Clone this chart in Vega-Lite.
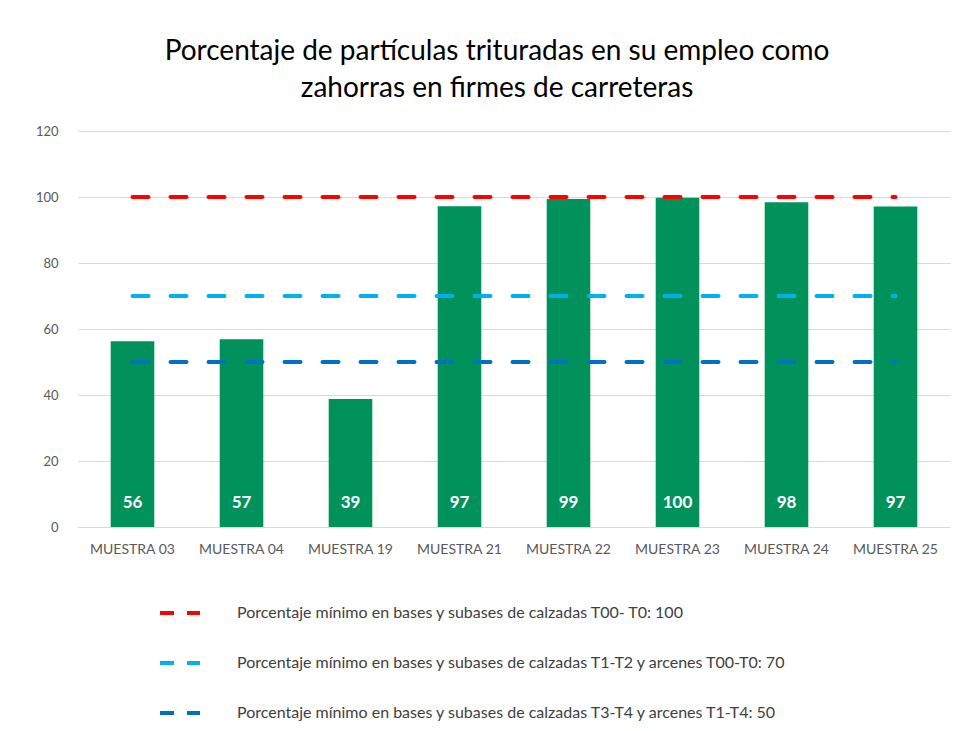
{
  "$schema": "https://vega.github.io/schema/vega-lite/v6.json",
  "width": 872,
  "height": 396,
  "autosize": "none",
  "padding": {"left": 78, "top": 131, "right": 7, "bottom": 204},
  "background": "white",
  "title": {
    "text": ["Porcentaje de partículas trituradas en su empleo como", "zahorras en firmes de carreteras"],
    "font": "Lato",
    "fontSize": 28,
    "fontWeight": "normal",
    "color": "#000000",
    "lineHeight": 37,
    "anchor": "middle",
    "dx": -17,
    "offset": 22
  },
  "datasets": {
    "muestras": [
      {"muestra": "MUESTRA 03", "valor": 56.3, "etiqueta": "56"},
      {"muestra": "MUESTRA 04", "valor": 56.9, "etiqueta": "57"},
      {"muestra": "MUESTRA 19", "valor": 38.8, "etiqueta": "39"},
      {"muestra": "MUESTRA 21", "valor": 97.2, "etiqueta": "97"},
      {"muestra": "MUESTRA 22", "valor": 99.4, "etiqueta": "99"},
      {"muestra": "MUESTRA 23", "valor": 99.8, "etiqueta": "100"},
      {"muestra": "MUESTRA 24", "valor": 98.4, "etiqueta": "98"},
      {"muestra": "MUESTRA 25", "valor": 97.1, "etiqueta": "97"}
    ],
    "umbrales": [
      {"serie": "Porcentaje mínimo en bases y subases de calzadas T00- T0: 100", "muestra": "MUESTRA 03", "valor": 100},
      {"serie": "Porcentaje mínimo en bases y subases de calzadas T00- T0: 100", "muestra": "MUESTRA 04", "valor": 100},
      {"serie": "Porcentaje mínimo en bases y subases de calzadas T00- T0: 100", "muestra": "MUESTRA 19", "valor": 100},
      {"serie": "Porcentaje mínimo en bases y subases de calzadas T00- T0: 100", "muestra": "MUESTRA 21", "valor": 100},
      {"serie": "Porcentaje mínimo en bases y subases de calzadas T00- T0: 100", "muestra": "MUESTRA 22", "valor": 100},
      {"serie": "Porcentaje mínimo en bases y subases de calzadas T00- T0: 100", "muestra": "MUESTRA 23", "valor": 100},
      {"serie": "Porcentaje mínimo en bases y subases de calzadas T00- T0: 100", "muestra": "MUESTRA 24", "valor": 100},
      {"serie": "Porcentaje mínimo en bases y subases de calzadas T00- T0: 100", "muestra": "MUESTRA 25", "valor": 100},
      {"serie": "Porcentaje mínimo en bases y subases de calzadas T1-T2 y arcenes T00-T0: 70", "muestra": "MUESTRA 03", "valor": 70},
      {"serie": "Porcentaje mínimo en bases y subases de calzadas T1-T2 y arcenes T00-T0: 70", "muestra": "MUESTRA 04", "valor": 70},
      {"serie": "Porcentaje mínimo en bases y subases de calzadas T1-T2 y arcenes T00-T0: 70", "muestra": "MUESTRA 19", "valor": 70},
      {"serie": "Porcentaje mínimo en bases y subases de calzadas T1-T2 y arcenes T00-T0: 70", "muestra": "MUESTRA 21", "valor": 70},
      {"serie": "Porcentaje mínimo en bases y subases de calzadas T1-T2 y arcenes T00-T0: 70", "muestra": "MUESTRA 22", "valor": 70},
      {"serie": "Porcentaje mínimo en bases y subases de calzadas T1-T2 y arcenes T00-T0: 70", "muestra": "MUESTRA 23", "valor": 70},
      {"serie": "Porcentaje mínimo en bases y subases de calzadas T1-T2 y arcenes T00-T0: 70", "muestra": "MUESTRA 24", "valor": 70},
      {"serie": "Porcentaje mínimo en bases y subases de calzadas T1-T2 y arcenes T00-T0: 70", "muestra": "MUESTRA 25", "valor": 70},
      {"serie": "Porcentaje mínimo en bases y subases de calzadas T3-T4 y arcenes T1-T4: 50", "muestra": "MUESTRA 03", "valor": 50},
      {"serie": "Porcentaje mínimo en bases y subases de calzadas T3-T4 y arcenes T1-T4: 50", "muestra": "MUESTRA 04", "valor": 50},
      {"serie": "Porcentaje mínimo en bases y subases de calzadas T3-T4 y arcenes T1-T4: 50", "muestra": "MUESTRA 19", "valor": 50},
      {"serie": "Porcentaje mínimo en bases y subases de calzadas T3-T4 y arcenes T1-T4: 50", "muestra": "MUESTRA 21", "valor": 50},
      {"serie": "Porcentaje mínimo en bases y subases de calzadas T3-T4 y arcenes T1-T4: 50", "muestra": "MUESTRA 22", "valor": 50},
      {"serie": "Porcentaje mínimo en bases y subases de calzadas T3-T4 y arcenes T1-T4: 50", "muestra": "MUESTRA 23", "valor": 50},
      {"serie": "Porcentaje mínimo en bases y subases de calzadas T3-T4 y arcenes T1-T4: 50", "muestra": "MUESTRA 24", "valor": 50},
      {"serie": "Porcentaje mínimo en bases y subases de calzadas T3-T4 y arcenes T1-T4: 50", "muestra": "MUESTRA 25", "valor": 50}
    ]
  },
  "config": {
    "view": {"stroke": null},
    "font": "Lato",
    "axis": {
      "labelFont": "Lato",
      "labelFontSize": 13,
      "labelColor": "#595959",
      "title": null,
      "ticks": false,
      "gridColor": "#d9d9d9",
      "gridWidth": 1
    }
  },
  "layer": [
    {
      "data": {"name": "muestras"},
      "mark": {"type": "bar", "color": "#00925A"},
      "encoding": {
        "x": {
          "field": "muestra",
          "type": "nominal",
          "sort": null,
          "scale": {"paddingInner": 0.6, "paddingOuter": 0.3},
          "axis": {"labelAngle": 0, "domainColor": "#d9d9d9", "domainWidth": 1, "labelPadding": 15, "labelFontSize": 14, "grid": false}
        },
        "y": {
          "field": "valor",
          "type": "quantitative",
          "scale": {"domain": [0, 120]},
          "axis": {"values": [0, 20, 40, 60, 80, 100, 120], "domain": false, "labelPadding": 20, "grid": true}
        }
      }
    },
    {
      "data": {"name": "umbrales"},
      "mark": {"type": "line", "strokeWidth": 4, "strokeDash": [16, 22], "strokeCap": "round"},
      "encoding": {
        "x": {"field": "muestra", "type": "nominal", "sort": null},
        "y": {"field": "valor", "type": "quantitative"},
        "color": {
          "field": "serie",
          "type": "nominal",
          "sort": null,
          "scale": {
            "domain": [
              "Porcentaje mínimo en bases y subases de calzadas T00- T0: 100",
              "Porcentaje mínimo en bases y subases de calzadas T1-T2 y arcenes T00-T0: 70",
              "Porcentaje mínimo en bases y subases de calzadas T3-T4 y arcenes T1-T4: 50"
            ],
            "range": ["#FF0000", "#00B0F0", "#0070C0"]
          },
          "legend": {
            "title": null,
            "orient": "none",
            "legendX": 80,
            "legendY": 460,
            "direction": "vertical",
            "symbolType": "stroke",
            "symbolSize": 1600,
            "symbolStrokeWidth": 4,
            "symbolDash": [14, 13],
            "labelFont": "Lato",
            "labelFontSize": 16,
            "labelColor": "#404040",
            "labelLimit": 800,
            "labelOffset": 35,
            "rowPadding": 20
          }
        }
      }
    },
    {
      "data": {"name": "muestras"},
      "mark": {"type": "text", "color": "white", "fontWeight": "bold", "fontSize": 17, "baseline": "middle", "dy": -24, "font": "Lato"},
      "encoding": {
        "x": {"field": "muestra", "type": "nominal", "sort": null},
        "y": {"datum": 0},
        "text": {"field": "etiqueta"}
      }
    }
  ]
}
